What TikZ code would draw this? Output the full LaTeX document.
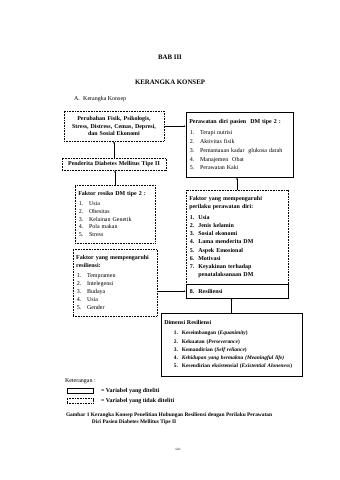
\documentclass[tikz,border=0pt]{standalone}
\usepackage{fontspec}
\setmainfont{Liberation Serif}
\usetikzlibrary{arrows.meta}

\newcommand{\itm}[3][18pt]{\hspace*{1pt}\makebox[#1][l]{#2}#3}

\begin{document}
\begin{tikzpicture}[x=0.0618cm, y=-0.0618cm,
    font=\fontsize{10.5}{14}\selectfont,
    solidbox/.style={draw, line width=0.7pt, anchor=north, inner xsep=0.2cm, inner ysep=1pt},
    dashbox/.style={solidbox, dash pattern=on 1.6pt off 1.2pt},
    link/.style={-{Latex[length=3.5pt, width=3pt]}, line width=0.6pt}]

    % Page
    \path[use as bounding box] (0,0) rectangle (340,480);

    % Headings
    \node[font=\bfseries\fontsize{12}{14}\selectfont] (bab) at (170,57) {BAB III};
    \node[font=\bfseries\fontsize{12}{14}\selectfont] (judul) at (170,82) {KERANGKA KONSEP};
    \node[anchor=west] (subjudul) at (72,99) {A.\hspace{6pt}Kerangka Konsep};

    % Draw boxes
    \node[dashbox, text width=5.78cm, minimum height=1.854cm, align=center,
        font=\bfseries\fontsize{10.5}{13.5}\selectfont] (perubahan) at (114,111)
        {Perubahan Fisik, Psikologis,\\ Stress, Distress, Cemas, Depresi,\\ dan Sosial Ekonomi};
    \node[dashbox, text width=6.03cm, minimum height=0.742cm, align=center,
        font=\bfseries\fontsize{10.5}{13}\selectfont] (penderita) at (114,158)
        {Penderita Diabetes Mellitus Tipe II};
    \node[dashbox, text width=4.54cm, minimum height=3.58cm, align=left] (resiko) at (115,185)
        {\textbf{Faktor resiko DM tipe 2 :}\\[3pt]
        \itm{1.}{Usia}\\ \itm{2.}{Obesitas}\\ \itm{3.}{Kelainan Genetik}\\
        \itm{4.}{Pola makan}\\ \itm{5.}{Stress}};
    \node[dashbox, text width=4.79cm, minimum height=4.14cm, align=left] (resfaktor) at (115,249)
        {\textbf{Faktor yang mempengaruhi}\\ \textbf{resiliensi:}\\[4pt]
        \itm{1.}{Tempramen}\\ \itm{2.}{Intelegensi}\\ \itm{3.}{Budaya}\\
        \itm{4.}{Usia}\\ \itm{5.}{Gender}};
    \node[solidbox, text width=6.21cm, minimum height=4.02cm, align=left,
        font=\fontsize{10.5}{15.5}\selectfont] (perawatan) at (239.5,112)
        {\textbf{Perawatan diri pasien\ \ DM tipe 2 :}\\[4pt]
        \itm{1.}{Terapi nutrisi}\\ \itm{2.}{Aktivitas fisik}\\
        \itm{3.}{Pemantauan kadar\ \ glukosa darah}\\ \itm{4.}{Manajemen\ \ Obat}\\
        \itm{5.}{Perawatan Kaki}};
    \node[dashbox, text width=5.90cm, minimum height=5.81cm, align=left,
        font=\bfseries\fontsize{10.5}{14.5}\selectfont] (perilaku) at (237,190)
        {Faktor yang mempengaruhi\\ perilaku perawatan diri:\\[4pt]
        \itm[15pt]{1.}{Usia}\\ \itm[15pt]{2.}{Jenis kelamin}\\ \itm[15pt]{3.}{Sosial ekonomi}\\
        \itm[15pt]{4.}{Lama menderita DM}\\ \itm[15pt]{5.}{Aspek Emosional}\\
        \itm[15pt]{6.}{Motivasi}\\ \itm[15pt]{7.}{Keyakinan terhadap}\\
        \itm[15pt]{}{penatalaksanaan DM}};
    \node[solidbox, text width=5.90cm, minimum height=0.865cm, align=left,
        font=\bfseries\fontsize{10.5}{13}\selectfont] (resil) at (237,284)
        {\itm[15pt]{8.}{Resiliensi}};
    \node[solidbox, text width=8.31cm, minimum height=3.89cm, align=left,
        font=\bfseries\fontsize{9.5}{14.5}\selectfont] (dimensi) at (231.5,313)
        {{\fontsize{10.5}{14.5}\selectfont Dimensi Resiliensi}\\[4pt]
        \hspace*{16pt}\itm[14pt]{1.}{Keseimbangan (\textit{Equanimity})}\\
        \hspace*{16pt}\itm[14pt]{2.}{Kekuatan (\textit{Perseverance})}\\
        \hspace*{16pt}\itm[14pt]{3.}{Kemandirian (\textit{Self reliance})}\\
        \hspace*{16pt}\itm[14pt]{4.}{\textit{Kehidupan yang bermakna (Meaningful life)}}\\
        \hspace*{16pt}\itm[14pt]{5.}{Kesendirian eksistensial (\textit{Existential Aloneness})}};

    % Draw connections
    \draw[link] (resiko.north) -- (resiko.north |- penderita.south);
    \draw[link] (penderita.north) -- (penderita.north |- perubahan.south);
    \draw[link] (perubahan.east) -- (perubahan.east -| perawatan.west);
    \draw[link] (perilaku.north) -- (perilaku.north |- perawatan.south);
    \draw[link] (resfaktor.east |- resil.west) -- (resil.west);
    \draw[link] (dimensi.north) -- (dimensi.north |- resil.south);

    % Legend
    \node[anchor=west] (ket) at (63,381) {Keterangan :};
    \node[draw, line width=0.7pt, minimum width=1.6cm, minimum height=0.3cm, inner sep=0pt] (kunci1) at (80,391) {};
    \node[anchor=west, font=\bfseries\fontsize{10.5}{13}\selectfont] (kunci1teks) at (99,391) {= Variabel yang diteliti};
    \node[draw, line width=0.7pt, dash pattern=on 1.6pt off 1.2pt, minimum width=1.6cm, minimum height=0.3cm, inner sep=0pt] (kunci2) at (80,401) {};
    \node[anchor=west, font=\bfseries\fontsize{10.5}{13}\selectfont] (kunci2teks) at (99,401) {= Variabel yang tidak diteliti};

    % Caption
    \node[anchor=north west, align=left, font=\bfseries\fontsize{9.5}{12}\selectfont] (gambar) at (64,411)
        {Gambar 1 Kerangka Konsep Penelitian Hubungan Resiliensi dengan Perilaku Perawatan\\
        \hspace*{1.6cm}Diri Pasien Diabetes Mellitus Tipe II};
    \node[font=\fontsize{6}{7}\selectfont] (hal) at (178,449) {xlvi};
\end{tikzpicture}
\end{document}
